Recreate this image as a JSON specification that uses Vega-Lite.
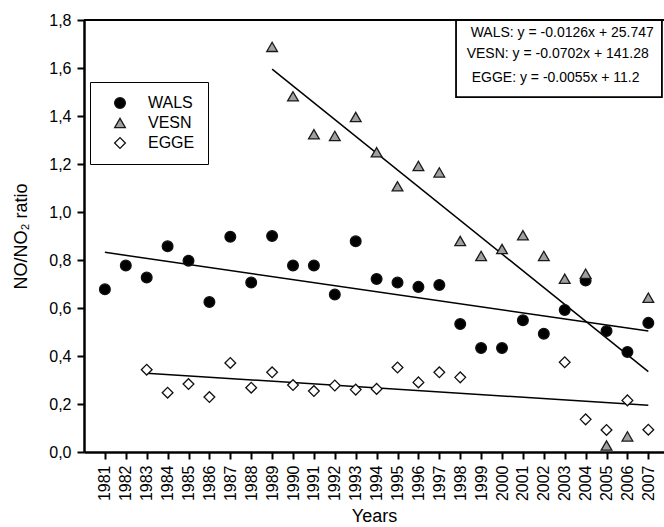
{
  "$schema": "https://vega.github.io/schema/vega-lite/v6.json",
  "autosize": "none",
  "padding": {"left": 84, "top": 20, "right": 0, "bottom": 75},
  "width": 580,
  "height": 432,
  "config": {
    "view": {"stroke": null},
    "font": "Liberation Sans",
    "axis": {"labelFont": "Liberation Sans", "titleFont": "Liberation Sans", "labelColor": "black", "titleColor": "black", "titleFontWeight": "normal", "domainColor": "black", "tickColor": "black", "grid": false, "labelOverlap": false},
    "legend": {"labelFont": "Liberation Sans", "labelColor": "black"}
  },
  "datasets": {
    "points": [
      {"year": 1981, "series": "WALS", "value": 0.678},
      {"year": 1982, "series": "WALS", "value": 0.777},
      {"year": 1983, "series": "WALS", "value": 0.727},
      {"year": 1984, "series": "WALS", "value": 0.857},
      {"year": 1985, "series": "WALS", "value": 0.797},
      {"year": 1986, "series": "WALS", "value": 0.625},
      {"year": 1987, "series": "WALS", "value": 0.897},
      {"year": 1988, "series": "WALS", "value": 0.706},
      {"year": 1989, "series": "WALS", "value": 0.9},
      {"year": 1990, "series": "WALS", "value": 0.777},
      {"year": 1991, "series": "WALS", "value": 0.777},
      {"year": 1992, "series": "WALS", "value": 0.656},
      {"year": 1993, "series": "WALS", "value": 0.878},
      {"year": 1994, "series": "WALS", "value": 0.721},
      {"year": 1995, "series": "WALS", "value": 0.706},
      {"year": 1996, "series": "WALS", "value": 0.688},
      {"year": 1997, "series": "WALS", "value": 0.696},
      {"year": 1998, "series": "WALS", "value": 0.533},
      {"year": 1999, "series": "WALS", "value": 0.433},
      {"year": 2000, "series": "WALS", "value": 0.433},
      {"year": 2001, "series": "WALS", "value": 0.549},
      {"year": 2002, "series": "WALS", "value": 0.493},
      {"year": 2003, "series": "WALS", "value": 0.592},
      {"year": 2004, "series": "WALS", "value": 0.715},
      {"year": 2005, "series": "WALS", "value": 0.504},
      {"year": 2006, "series": "WALS", "value": 0.417},
      {"year": 2007, "series": "WALS", "value": 0.538},
      {"year": 1989, "series": "VESN", "value": 1.688},
      {"year": 1990, "series": "VESN", "value": 1.482},
      {"year": 1991, "series": "VESN", "value": 1.324},
      {"year": 1992, "series": "VESN", "value": 1.317},
      {"year": 1993, "series": "VESN", "value": 1.396},
      {"year": 1994, "series": "VESN", "value": 1.249},
      {"year": 1995, "series": "VESN", "value": 1.107},
      {"year": 1996, "series": "VESN", "value": 1.192},
      {"year": 1997, "series": "VESN", "value": 1.165},
      {"year": 1998, "series": "VESN", "value": 0.879},
      {"year": 1999, "series": "VESN", "value": 0.817},
      {"year": 2000, "series": "VESN", "value": 0.846},
      {"year": 2001, "series": "VESN", "value": 0.903},
      {"year": 2002, "series": "VESN", "value": 0.817},
      {"year": 2003, "series": "VESN", "value": 0.722},
      {"year": 2004, "series": "VESN", "value": 0.743},
      {"year": 2005, "series": "VESN", "value": 0.027},
      {"year": 2006, "series": "VESN", "value": 0.065},
      {"year": 2007, "series": "VESN", "value": 0.643},
      {"year": 1983, "series": "EGGE", "value": 0.343},
      {"year": 1984, "series": "EGGE", "value": 0.247},
      {"year": 1985, "series": "EGGE", "value": 0.283},
      {"year": 1986, "series": "EGGE", "value": 0.229},
      {"year": 1987, "series": "EGGE", "value": 0.371},
      {"year": 1988, "series": "EGGE", "value": 0.268},
      {"year": 1989, "series": "EGGE", "value": 0.332},
      {"year": 1990, "series": "EGGE", "value": 0.279},
      {"year": 1991, "series": "EGGE", "value": 0.254},
      {"year": 1992, "series": "EGGE", "value": 0.277},
      {"year": 1993, "series": "EGGE", "value": 0.26},
      {"year": 1994, "series": "EGGE", "value": 0.263},
      {"year": 1995, "series": "EGGE", "value": 0.352},
      {"year": 1996, "series": "EGGE", "value": 0.29},
      {"year": 1997, "series": "EGGE", "value": 0.332},
      {"year": 1998, "series": "EGGE", "value": 0.311},
      {"year": 2003, "series": "EGGE", "value": 0.374},
      {"year": 2004, "series": "EGGE", "value": 0.136},
      {"year": 2005, "series": "EGGE", "value": 0.092},
      {"year": 2006, "series": "EGGE", "value": 0.215},
      {"year": 2007, "series": "EGGE", "value": 0.093}
    ],
    "fits": [
      {"year": 1981, "series": "WALS", "fit": 0.832},
      {"year": 2007, "series": "WALS", "fit": 0.504},
      {"year": 1989, "series": "VESN", "fit": 1.595},
      {"year": 2007, "series": "VESN", "fit": 0.335},
      {"year": 1983, "series": "EGGE", "fit": 0.328},
      {"year": 2007, "series": "EGGE", "fit": 0.195}
    ],
    "one": [{}]
  },
  "layer": [
    {
      "data": {"name": "fits"},
      "mark": {"type": "line", "color": "black", "strokeWidth": 1.5},
      "encoding": {
        "x": {"field": "year", "type": "quantitative", "scale": {"domain": [1980, 2007.75], "nice": false, "zero": false},
          "axis": {"values": [1981,1982,1983,1984,1985,1986,1987,1988,1989,1990,1991,1992,1993,1994,1995,1996,1997,1998,1999,2000,2001,2002,2003,2004,2005,2006,2007],
            "tickCount": 40, "format": "d", "labelAngle": -90, "labelAlign": "right", "labelBaseline": "middle", "labelFontSize": 16, "labelPadding": 6, "labelOverlap": false, "labelFlush": false,
            "tickSize": 7, "tickWidth": 2, "domainWidth": 2.5, "title": "Years", "titleFontSize": 18, "titlePadding": 7}},
        "y": {"field": "fit", "type": "quantitative", "scale": {"domain": [0, 1.8], "nice": false, "zero": true},
          "axis": {"values": [0, 0.2, 0.4, 0.6, 0.8, 1.0, 1.2, 1.4, 1.6, 1.8], "tickCount": 20,
            "labelExpr": "replace(format(datum.value, '.1f'), '.', ',')", "labelFontSize": 16, "labelPadding": 6, "labelOverlap": false, "labelFlush": false,
            "tickSize": 7, "tickWidth": 2, "domainWidth": 2.5, "title": "NO/NO₂ ratio", "titleFontSize": 18, "titlePadding": 18}},
        "detail": {"field": "series"}
      }
    },
    {
      "data": {"name": "points"},
      "mark": {"type": "point", "filled": true, "strokeWidth": 1.3, "opacity": 1, "size": 115},
      "encoding": {
        "x": {"field": "year", "type": "quantitative"},
        "y": {"field": "value", "type": "quantitative"},
        "shape": {"field": "series", "type": "nominal",
          "scale": {"domain": ["WALS", "VESN", "EGGE"], "range": ["circle", "triangle-up", "diamond"]},
          "legend": {"orient": "none", "legendX": 6, "legendY": 62, "title": null, "strokeColor": "black", "fillColor": "white",
            "padding": 13, "labelFontSize": 16, "symbolOffset": 9, "labelOffset": 20, "rowPadding": 4, "symbolSize": 115, "symbolStrokeWidth": 1.3}},
        "fill": {"field": "series", "type": "nominal",
          "scale": {"domain": ["WALS", "VESN", "EGGE"], "range": ["black", "#a0a0a0", "white"]},
          "legend": {"orient": "none", "legendX": 6, "legendY": 62, "title": null, "strokeColor": "black", "fillColor": "white",
            "padding": 13, "labelFontSize": 16, "symbolOffset": 9, "labelOffset": 20, "rowPadding": 4, "symbolSize": 115, "symbolStrokeWidth": 1.3}},
        "stroke": {"field": "series", "type": "nominal",
          "scale": {"domain": ["WALS", "VESN", "EGGE"], "range": ["#111111", "#1a1a1a", "#111111"]},
          "legend": {"orient": "none", "legendX": 6, "legendY": 62, "title": null, "strokeColor": "black", "fillColor": "white",
            "padding": 13, "labelFontSize": 16, "symbolOffset": 9, "labelOffset": 20, "rowPadding": 4, "symbolSize": 115, "symbolStrokeWidth": 1.3}}
      }
    },
    {
      "data": {"name": "one"},
      "mark": {"type": "rule", "color": "black", "strokeWidth": 2},
      "encoding": {"y": {"datum": 1.8}}
    },
    {
      "data": {"name": "one"},
      "mark": {"type": "rect", "fill": "white", "stroke": "black", "strokeWidth": 1.8},
      "encoding": {"x": {"datum": 1997.8}, "x2": {"datum": 2007.65}, "y": {"datum": 1.8}, "y2": {"datum": 1.479}}
    },
    {
      "data": {"name": "one"},
      "mark": {"type": "text", "align": "left", "baseline": "middle", "fontSize": 14, "color": "black"},
      "encoding": {"x": {"datum": 1998.5}, "y": {"datum": 1.7475}, "text": {"value": "WALS: y = -0.0126x + 25.747"}}
    },
    {
      "data": {"name": "one"},
      "mark": {"type": "text", "align": "left", "baseline": "middle", "fontSize": 14, "color": "black"},
      "encoding": {"x": {"datum": 1998.31}, "y": {"datum": 1.657}, "text": {"value": "VESN: y = -0.0702x + 141.28"}}
    },
    {
      "data": {"name": "one"},
      "mark": {"type": "text", "align": "left", "baseline": "middle", "fontSize": 14, "color": "black"},
      "encoding": {"x": {"datum": 1998.55}, "y": {"datum": 1.557}, "text": {"value": "EGGE: y = -0.0055x + 11.2"}}
    }
  ]
}
